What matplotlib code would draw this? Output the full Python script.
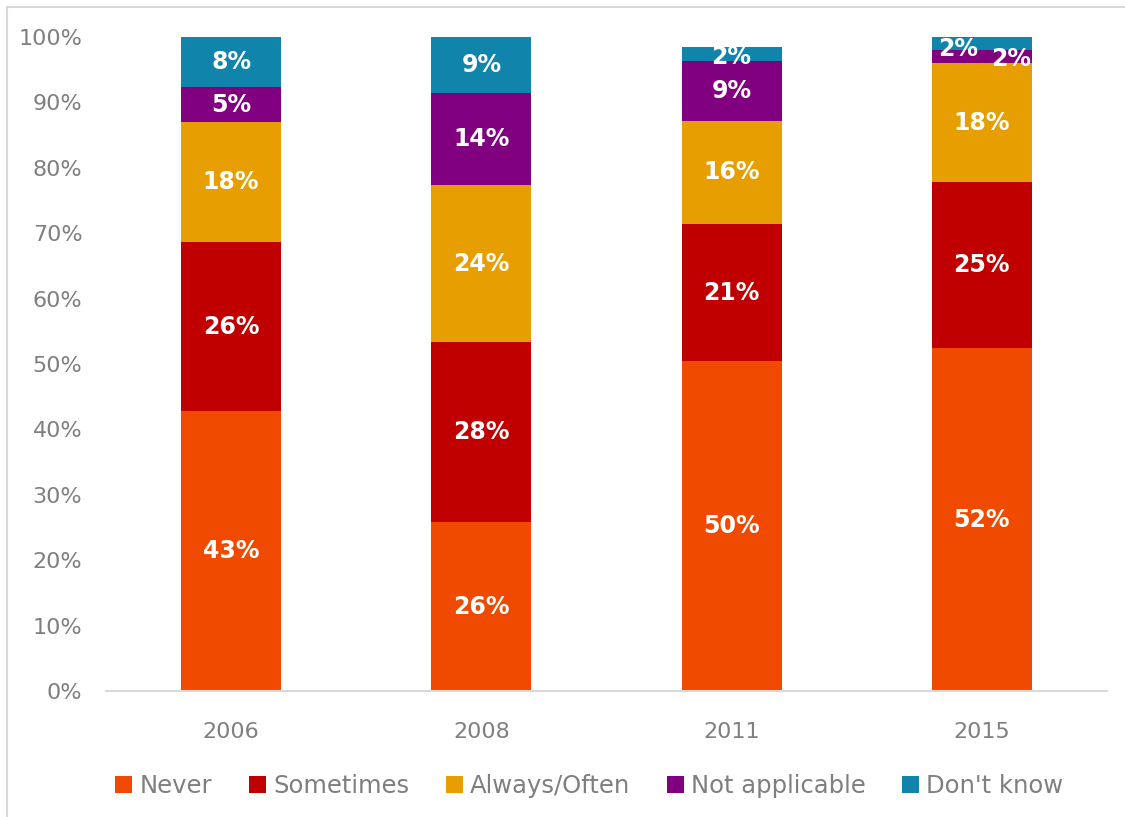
import matplotlib.pyplot as plt
import numpy as np
from matplotlib.lines import Line2D

plt.rcParams['font.family'] = ['DejaVu Sans']

years = ['2006', '2008', '2011', '2015']
series = ['Never', 'Sometimes', 'Always/Often', 'Not applicable', "Don't know"]
never = [42.8, 25.8, 50.4, 52.4]
sometimes = [25.8, 27.6, 21.0, 25.4]
always_often = [18.4, 23.9, 15.8, 18.2]
not_applicable = [5.3, 14.1, 9.1, 2.0]
dont_know = [7.7, 8.6, 2.1, 2.0]

colors = ['#F04A00', '#C00000', '#E69E00', '#800080', '#1184AC']
grey = '#7F7F7F'

fig = plt.figure(figsize=(11.25, 8.17), dpi=100)
ax = fig.add_axes([0.0942, 0.1542, 0.8898, 0.8005])

x = np.arange(len(years))
values = [never, sometimes, always_often, not_applicable, dont_know]
bottom = np.zeros(len(years))
for name, vals, col in zip(series, values, colors):
    bars = ax.bar(x, vals, 0.4, bottom=bottom, color=col, label=name,
                  edgecolor='none')
    for i, (b, v) in enumerate(zip(bars, vals)):
        cx = b.get_x() + b.get_width() / 2
        cy = bottom[i] + v / 2
        dx, dy = 0, 0
        # the two thin 2015 segments get nudged apart so both labels read
        if years[i] == '2015' and name == "Don't know":
            dx, dy = -17, -4
        elif years[i] == '2015' and name == 'Not applicable':
            dx, dy = 21, -1.5
        elif years[i] == '2011' and name == "Don't know":
            dy = -2
        ax.annotate(f'{v:.0f}%', (cx, cy), xytext=(dx, dy),
                    textcoords='offset points', ha='center', va='center',
                    color='white', fontsize=17, fontweight='bold')
    bottom += np.array(vals)

ax.set_xlim(-0.5, 3.5)
ax.set_ylim(0, 100)
ax.set_xticks(x)
ax.set_xticklabels(years)
ax.set_yticks(np.arange(0, 101, 10))
ax.set_yticklabels([f'{t}%' for t in range(0, 101, 10)])
ax.tick_params(axis='both', length=0, labelsize=16, labelcolor=grey)
ax.tick_params(axis='y', pad=17)
ax.tick_params(axis='x', pad=22)
for s in ['top', 'right', 'left']:
    ax.spines[s].set_visible(False)
ax.spines['bottom'].set_color('#D9D9D9')
ax.spines['bottom'].set_linewidth(1.5)

leg = ax.legend(loc='upper center', bbox_to_anchor=(0.483, -0.093), ncol=5,
                frameon=False, fontsize=17.5, handlelength=0.7,
                handleheight=0.7, handletextpad=0.3, columnspacing=1.5)
for t in leg.get_texts():
    t.set_color(grey)

# outer chart frame
fig.add_artist(Line2D([7 / 1125, 7 / 1125], [0, 1 - 7 / 817],
                      transform=fig.transFigure, color='#D9D9D9', lw=1.5))
fig.add_artist(Line2D([7 / 1125, 1], [1 - 7 / 817, 1 - 7 / 817],
                      transform=fig.transFigure, color='#D9D9D9', lw=1.5))

fig.savefig('out.png', dpi=100)
